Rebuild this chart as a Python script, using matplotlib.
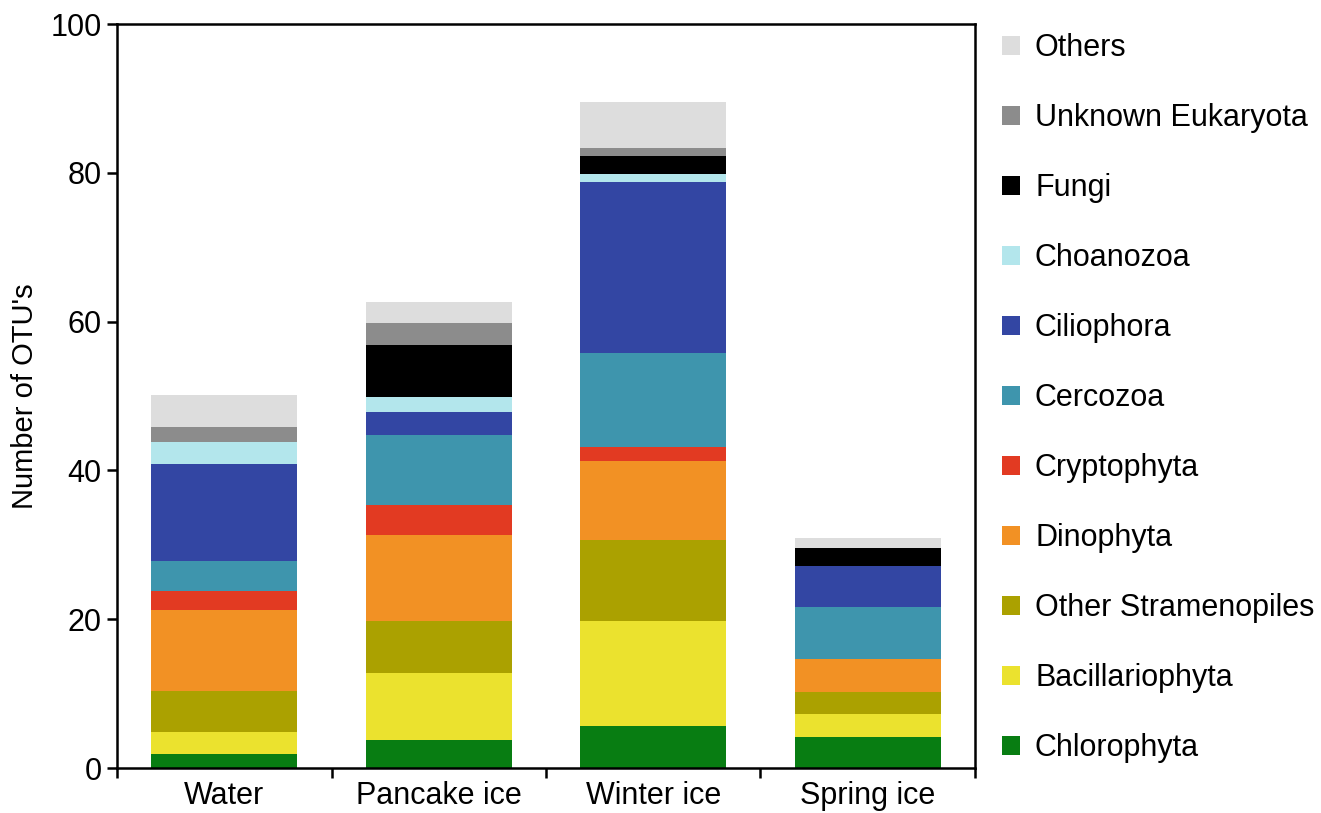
import matplotlib
matplotlib.use("Agg")
import matplotlib.pyplot as plt
from matplotlib.patches import Patch
import numpy as np

plt.rcParams['font.family'] = ['Liberation Sans', 'DejaVu Sans']

sites = ["Water", "Pancake ice", "Winter ice", "Spring ice"]

# stacked from bottom to top
groups = ["Chlorophyta", "Bacillariophyta", "Other Stramenopiles", "Dinophyta",
          "Cryptophyta", "Cercozoa", "Ciliophora", "Choanozoa", "Fungi",
          "Unknown Eukaryota", "Others"]

chlorophyta = [1.9, 3.8, 5.7, 4.2]
bacillariophyta = [3.0, 9.0, 14.0, 3.0]
other_stramenopiles = [5.4, 7.0, 11.0, 3.0]
dinophyta = [11.0, 11.5, 10.5, 4.5]
cryptophyta = [2.5, 4.0, 2.0, 0.0]
cercozoa = [4.0, 9.4, 12.6, 6.9]
ciliophora = [13.0, 3.2, 23.0, 5.5]
choanozoa = [3.0, 1.9, 1.0, 0.0]
fungi = [0.0, 7.0, 2.5, 2.5]
unknown_eukaryota = [2.0, 3.0, 1.0, 0.0]
others = [4.3, 2.8, 6.2, 1.3]

series = [chlorophyta, bacillariophyta, other_stramenopiles, dinophyta,
          cryptophyta, cercozoa, ciliophora, choanozoa, fungi,
          unknown_eukaryota, others]

colors = ["#087d12", "#ebe22e", "#aba100", "#f29124", "#e23a22", "#3e95ad",
          "#3346a3", "#b3e6ec", "#000000", "#8c8c8c", "#dddddd"]

fig = plt.figure(figsize=(13.21, 8.13), dpi=100)
ax = fig.add_axes([117 / 1321, 1 - 768 / 813, (975 - 117) / 1321, (768 - 24) / 813])

x = np.arange(len(sites))
bottom = np.zeros(len(sites))
for vals, col, name in zip(series, colors, groups):
    vals = np.array(vals)
    ax.bar(x, vals, width=0.68, bottom=bottom, color=col, label=name,
           linewidth=0, zorder=2)
    bottom += vals

ax.set_xlim(-0.5, 3.5)
ax.set_ylim(0, 100)
ax.set_yticks([0, 20, 40, 60, 80, 100])

# group boundaries carry the tick marks, labels sit at the group centres
ax.set_xticks(np.arange(-0.5, 4.0, 1.0))
ax.set_xticklabels([])
ax.set_xticks(x, minor=True)
ax.set_xticklabels(sites, minor=True)
ax.tick_params(axis='x', which='minor', length=0, pad=9, labelsize=22)
ax.tick_params(axis='x', which='major', length=7, width=1.8, direction='out')
ax.tick_params(axis='y', length=7, width=1.8, direction='out', labelsize=22, pad=4)

for sp in ax.spines.values():
    sp.set_linewidth(1.8)

ax.set_ylabel("Number of OTU's", fontsize=21, labelpad=8)

handles = [Patch(facecolor=c, edgecolor='none', label=g) for g, c in zip(groups, colors)]
leg = fig.legend(handles[::-1], groups[::-1], loc='upper left',
                 bbox_to_anchor=(1002 / 1321, 1 - 33 / 813), frameon=False,
                 fontsize=22, handlelength=0.58, handleheight=0.58,
                 handletextpad=0.5, labelspacing=1.31, borderaxespad=0,
                 borderpad=0)

fig.savefig("out.png", dpi=100)
